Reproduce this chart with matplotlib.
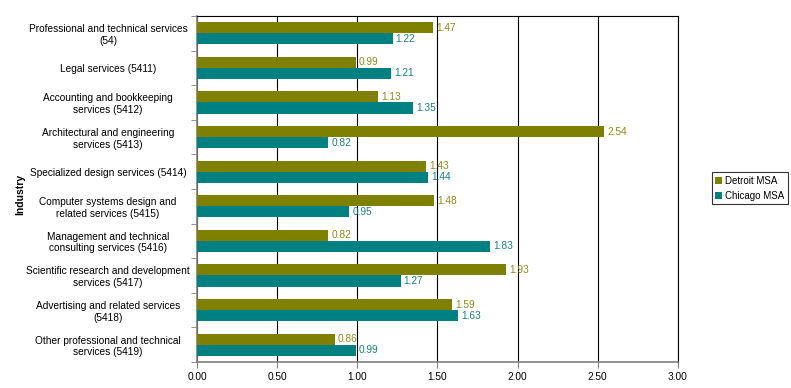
import matplotlib.pyplot as plt
import numpy as np

plt.rcParams['font.family'] = ['Liberation Sans', 'DejaVu Sans']

industries = [
    'Professional and technical services\n(54)',
    'Legal services (5411)',
    'Accounting and bookkeeping\nservices (5412)',
    'Architectural and engineering\nservices (5413)',
    'Specialized design services (5414)',
    'Computer systems design and\nrelated services (5415)',
    'Management and technical\nconsulting services (5416)',
    'Scientific research and development\nservices (5417)',
    'Advertising and related services\n(5418)',
    'Other professional and technical\nservices (5419)',
]
detroit = [1.47, 0.99, 1.13, 2.54, 1.43, 1.48, 0.82, 1.93, 1.59, 0.86]
chicago = [1.22, 1.21, 1.35, 0.82, 1.44, 0.95, 1.83, 1.27, 1.63, 0.99]
xticks = [0.0, 0.5, 1.0, 1.5, 2.0, 2.5, 3.0]

olive = '#808000'
teal = '#008080'

fig = plt.figure(figsize=(7.91, 3.88), dpi=100)
ax = fig.add_axes([0.249, 0.067, 0.608, 0.892])

y = np.arange(len(industries))
h = 0.32
bd = ax.barh(y - h / 2, detroit, height=h, color=olive, label='Detroit MSA', zorder=3)
bc = ax.barh(y + h / 2, chicago, height=h, color=teal, label='Chicago MSA', zorder=3)

# value labels just right of each bar end
for bars, vals, col in [(bd, detroit, '#8c8c1a'), (bc, chicago, '#1a8080')]:
    for b, v in zip(bars, vals):
        ax.text(b.get_width() + 0.02, b.get_y() + b.get_height() / 2, f'{v:.2f}',
                color=col, va='center', ha='left', fontsize=7.3, zorder=4)

ax.set_xlim(0, 3)
ax.set_ylim(len(industries) - 0.5, -0.5)
ax.set_xticks(xticks)
ax.set_xticklabels([f'{t:.2f}' for t in xticks], fontsize=7.3)
ax.xaxis.grid(True, color='black', linewidth=0.8, zorder=0)

# category labels centred between ticks, tick marks on boundaries
ax.set_yticks(y)
ax.set_yticklabels(industries, fontsize=7.3, ha='center', multialignment='center')
ax.tick_params(axis='y', length=0, pad=64)
ax.set_yticks(np.arange(-0.5, len(industries)), minor=True)
ax.tick_params(axis='y', which='minor', length=4, color='gray')
ax.tick_params(axis='x', length=4, color='gray')

for s in ['top', 'right']:
    ax.spines[s].set_color('black')
    ax.spines[s].set_linewidth(0.8)
for s in ['left', 'bottom']:
    ax.spines[s].set_color('gray')
    ax.spines[s].set_linewidth(1.2)

fig.text(0.025, 0.5, 'Industry', rotation=90, va='center', ha='center',
         fontsize=7.5, fontweight='bold')

leg = fig.legend(handles=[bd, bc], loc='center left', bbox_to_anchor=(0.9, 0.515),
                 fontsize=7, frameon=True, fancybox=False, edgecolor='black',
                 handlelength=0.7, handleheight=0.7, handletextpad=0.3,
                 borderpad=0.35, labelspacing=0.55, borderaxespad=0)
leg.get_frame().set_linewidth(0.8)

fig.savefig('out.png', dpi=100)
